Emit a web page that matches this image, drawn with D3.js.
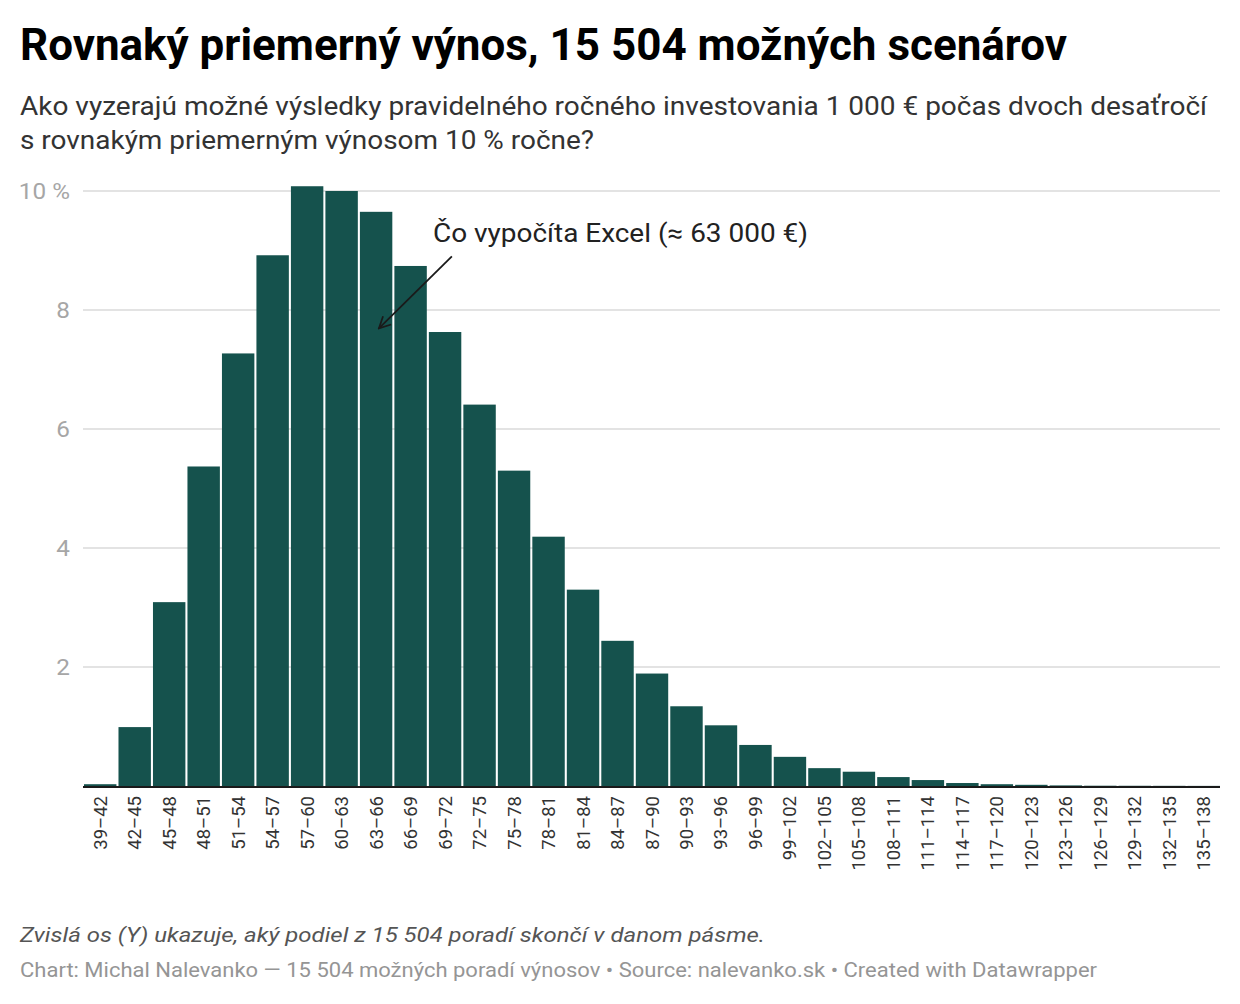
<!DOCTYPE html>
<html>
<head>
<meta charset="utf-8">
<script src="https://cdn.jsdelivr.net/npm/d3@7"></script>
<style>
  body { margin: 0; background: #fff; font-family: Roboto, "Noto Sans", sans-serif; }
</style>
</head>
<body>
<div id="chart"></div>
<script>
// data
const categories = ["39–42", "42–45", "45–48", "48–51", "51–54", "54–57", "57–60", "60–63",
    "63–66", "66–69", "69–72", "72–75", "75–78", "78–81", "81–84", "84–87", "87–90", "90–93",
    "93–96", "96–99", "99–102", "102–105", "105–108", "108–111", "111–114", "114–117",
    "117–120", "120–123", "123–126", "126–129", "129–132", "132–135", "135–138"];
const shares = [0.03, 0.99, 3.09, 5.37, 7.27, 8.92, 10.08, 10.0, 9.65, 8.74, 7.63, 6.41,
    5.30, 4.19, 3.30, 2.44, 1.89, 1.34, 1.02, 0.69, 0.49, 0.30, 0.24, 0.15, 0.10, 0.05,
    0.03, 0.02, 0.01, 0.005, 0.004, 0.003, 0.002];
const yTicks = [2, 4, 6, 8, 10];

const title = "Rovnaký priemerný výnos, 15 504 možných scenárov";
const subtitle = ["Ako vyzerajú možné výsledky pravidelného ročného investovania 1 000 € počas dvoch desaťročí",
    "s rovnakým priemerným výnosom 10 % ročne?"];
const annotation = "Čo vypočíta Excel (≈ 63 000 €)";
const note = "Zvislá os (Y) ukazuje, aký podiel z 15 504 poradí skončí v danom pásme.";
const credit = "Chart: Michal Nalevanko — 15 504 možných poradí výnosov • Source: nalevanko.sk • Created with Datawrapper";

const width = 1240, height = 1004;
const margin = { left: 84, right: 20, top: 191, bottom: 1004 - 786 };

const svg = d3.select("#chart").append("svg")
    .attr("width", width)
    .attr("height", height);

svg.append("text")
    .attr("x", 20).attr("y", 60)
    .attr("font-size", 43.5).attr("font-weight", 700)
    .attr("fill", "#000")
    .attr("textLength", 1047).attr("lengthAdjust", "spacingAndGlyphs")
    .text(title);

const subLen = [1187, 574];
svg.selectAll("text.sub")
    .data(subtitle)
    .enter().append("text")
    .attr("class", "sub")
    .attr("x", 20).attr("y", (d, i) => 115 + i * 34)
    .attr("font-size", 25).attr("fill", "#333")
    .attr("textLength", (d, i) => subLen[i]).attr("lengthAdjust", "spacingAndGlyphs")
    .text(d => d);

const x = d3.scaleBand()
    .domain(categories)
    .range([margin.left, width - margin.right])
    .paddingInner(0.06)
    .paddingOuter(0.0);

const y = d3.scaleLinear()
    .domain([0, 10])
    .range([height - margin.bottom, margin.top]);

// gridlines + y labels
const grid = svg.append("g");
grid.selectAll("line")
    .data(yTicks)
    .enter().append("line")
    .attr("x1", margin.left - 1).attr("x2", width - margin.right)
    .attr("y1", d => y(d)).attr("y2", d => y(d))
    .attr("stroke", "#e3e3e3").attr("stroke-width", 2);

grid.selectAll("text")
    .data(yTicks)
    .enter().append("text")
    .attr("x", 70).attr("y", d => y(d) + 8)
    .attr("text-anchor", "end")
    .attr("font-size", 22.5).attr("fill", "#a6a6a6")
    .attr("transform", d => `translate(70,${y(d)}) scale(1.08,1) translate(-70,${-y(d)})`)
    .text(d => d === 10 ? "10 %" : d);

// bars
svg.append("g").selectAll("rect")
    .data(shares)
    .enter().append("rect")
    .attr("x", (d, i) => x(categories[i]))
    .attr("y", d => y(d))
    .attr("width", x.bandwidth())
    .attr("height", d => y(0) - y(d))
    .attr("fill", "#15524d");

// baseline
svg.append("line")
    .attr("x1", margin.left - 1).attr("x2", width - margin.right)
    .attr("y1", y(0) + 1).attr("y2", y(0) + 1)
    .attr("stroke", "#1a1a1a").attr("stroke-width", 2);

// x labels rotated
svg.append("g").selectAll("text")
    .data(categories)
    .enter().append("text")
    .attr("transform", d => `translate(${x(d) + x.bandwidth() / 2 + 6.5},${y(0) + 10}) rotate(-90)`)
    .attr("text-anchor", "end")
    .attr("font-size", 18.5).attr("fill", "#333")
    .text(d => d);

// annotation
svg.append("defs").append("marker")
    .attr("id", "arrow")
    .attr("viewBox", "0 0 10 10")
    .attr("refX", 9).attr("refY", 5)
    .attr("markerWidth", 8).attr("markerHeight", 8)
    .attr("orient", "auto")
    .append("path")
    .attr("d", "M1,1 L9,5 L1,9")
    .attr("fill", "none").attr("stroke", "#1a1a1a").attr("stroke-width", 1.2);

const arrowFrom = { cat: "69–72", v: 8.9 };
const arrowTo = { cat: "63–66", v: 7.69 };
svg.append("line")
    .attr("x1", x(arrowFrom.cat) + 23).attr("y1", y(arrowFrom.v))
    .attr("x2", x(arrowTo.cat) + 19).attr("y2", y(arrowTo.v))
    .attr("stroke", "#1a1a1a").attr("stroke-width", 1.8)
    .attr("marker-end", "url(#arrow)");

svg.append("text")
    .attr("x", 433).attr("y", 242)
    .attr("font-size", 25).attr("fill", "#222")
    .attr("textLength", 375).attr("lengthAdjust", "spacingAndGlyphs")
    .text(annotation);

// footer
svg.append("text")
    .attr("x", 20).attr("y", 942)
    .attr("font-size", 21).attr("font-style", "italic").attr("fill", "#555")
    .attr("textLength", 745).attr("lengthAdjust", "spacingAndGlyphs")
    .text(note);

svg.append("text")
    .attr("x", 20).attr("y", 977)
    .attr("font-size", 20).attr("fill", "#959595")
    .attr("textLength", 1077).attr("lengthAdjust", "spacingAndGlyphs")
    .text(credit);
</script>
</body>
</html>
